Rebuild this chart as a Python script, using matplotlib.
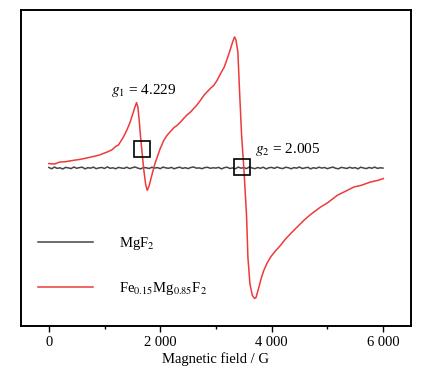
import matplotlib.pyplot as plt
from matplotlib.ticker import MultipleLocator

plt.rcParams['font.family'] = 'Liberation Serif'
plt.rcParams['mathtext.fontset'] = 'stix'

# EPR spectra (field in G, intensity in arb. units)
fe_field = [0, 100, 200, 300, 449, 550, 650, 800, 900, 1049, 1130, 1200, 1250,
            1288, 1340, 1408, 1460, 1498, 1540, 1575, 1600, 1625, 1647, 1680,
            1706, 1740, 1767, 1800, 1857, 1900, 1947, 2000, 2065, 2120, 2186,
            2250, 2300, 2366, 2420, 2480, 2545, 2600, 2660, 2720, 2785, 2840,
            2900, 2963, 3020, 3084, 3150, 3204, 3250, 3294, 3320, 3335, 3360,
            3394, 3425, 3461, 3502, 3551, 3574, 3610, 3653, 3695, 3720, 3772,
            3820, 3861, 3920, 3982, 4060, 4161, 4250, 4341, 4450, 4580, 4700,
            4880, 5000, 5180, 5300, 5478, 5600, 5778, 5900, 6006]
fe_signal = [4.4, 4.0, 6.0, 6.3, 7.7, 8.5, 9.6, 11.5, 12.8, 16.0, 18.0, 21.5, 23.0,
             26.4, 31.0, 38.7, 46.0, 52.5, 60.0, 65.4, 60.5, 46.0, 31.0, 12.0,
             -2.3, -17.0, -22.3, -18.0, -5.6, 3.5, 11.0, 19.5, 27.7, 32.5, 36.7,
             40.5, 42.5, 46.0, 49.5, 53.0, 56.0, 59.5, 63.0, 67.5, 72.7, 76.0,
             79.5, 82.7, 87.5, 94.4, 101.0, 109.4, 117.0, 125.0, 129.0, 131.0, 128.0,
             116.0, 76.0, 32.7, -0.6, -49.0, -89.0, -115.6, -127.3, -130.6, -129.5, -119.0,
             -109.0, -102.3, -95.0, -89.0, -83.5, -77.3, -71.0, -65.6, -59.5, -52.3, -46.5,
             -39.0, -35.0, -27.3, -24.0, -19.0, -17.5, -14.0, -12.5, -10.6]

mg_field = list(range(0, 6001, 50))
mg_signal = [0.5, -0.8, 0.9, -0.4, 0.2, -1.0, 0.6, 0.1, -0.6, 1.0, -0.3, 0.4, 0.8,
             -0.9, 0.3, -0.2, 0.9, -0.7, 0.1, 0.5, -0.5, 1.1, -0.3, 0.2, -0.8, 0.6,
             0.0, -0.4, 0.8, -0.6, 0.3, 1.0, -0.2, -0.9, 0.5, 0.2, -0.5, 0.7, -0.1,
             0.4, -0.7, 0.9, 0.1, -0.3, 0.6, -0.8, 0.2, 0.8, -0.4, 0.3, -0.6, 0.5,
             1.0, -0.2, 0.1, -0.7, 0.4, 0.7, -0.3, 0.2, -0.1, 0.6, -0.9, 0.3, 0.8,
             -0.5, 0.1, -0.8, 0.9, -0.2, 0.4, -0.6, 1.0, 0.0, -0.7, 0.5, -0.3, 0.8,
             -0.9, 0.2, 0.6, -0.4, 0.9, -0.1, -0.6, 0.7, 0.3, -0.8, 0.4, -0.2, 1.0,
             -0.5, 0.1, 0.7, -0.9, 0.3, -0.4, 0.8, -0.1, 0.5, -0.7, 0.2, 0.9, -0.3,
             -0.8, 0.6, 0.1, -0.5, 0.7, -0.2, 0.4, -0.9, 0.8, 0.0, -0.6, 0.5, -0.3,
             0.9, -0.4, 0.2, -0.1]

# marked resonance positions
box_field = [1665, 3470]
box_signal = [18.7, 0.7]

xticks = [0, 2000, 4000, 6000]
xtick_labels = ['0', '2 000', '4 000', '6 000']

fig = plt.figure(figsize=(4.24, 3.81), dpi=100)
ax = fig.add_axes([0.0495, 0.1444, 0.9195, 0.8294])

ax.plot(mg_field, mg_signal, color='#454545', lw=1.1, label=r'MgF$_2$')
ax.plot(fe_field, fe_signal, color='#ee3a3a', lw=1.1,
        label=r'Fe$_{0.15}$Mg$_{0.85}$F$_2$')
ax.plot(box_field, box_signal, 's', ms=11.5, mfc='none', mec='black', mew=1.2)

ax.text(1120, 74, r'$g_1$ = 4.229', fontsize=11)
ax.text(3710, 15, r'$g_2$ = 2.005', fontsize=11)

ax.set_xlim(-500, 6500)
ax.set_ylim(-158, 158)
ax.set_xticks(xticks)
ax.set_xticklabels(xtick_labels)
ax.xaxis.set_minor_locator(MultipleLocator(1000))
ax.tick_params(axis='x', which='major', direction='out', length=4, width=1, labelsize=10.5)
ax.tick_params(axis='x', which='minor', direction='out', length=2.5, width=1)
ax.set_yticks([])
ax.set_xlabel('Magnetic field / G', fontsize=10.5, labelpad=2)
for s in ax.spines.values():
    s.set_linewidth(1.4)

ax.legend(loc='lower left', bbox_to_anchor=(0.01, 0.05), frameon=False,
          fontsize=10.5, handlelength=3.8, handletextpad=1.75, labelspacing=1.95)

fig.savefig('out.png', dpi=100)
